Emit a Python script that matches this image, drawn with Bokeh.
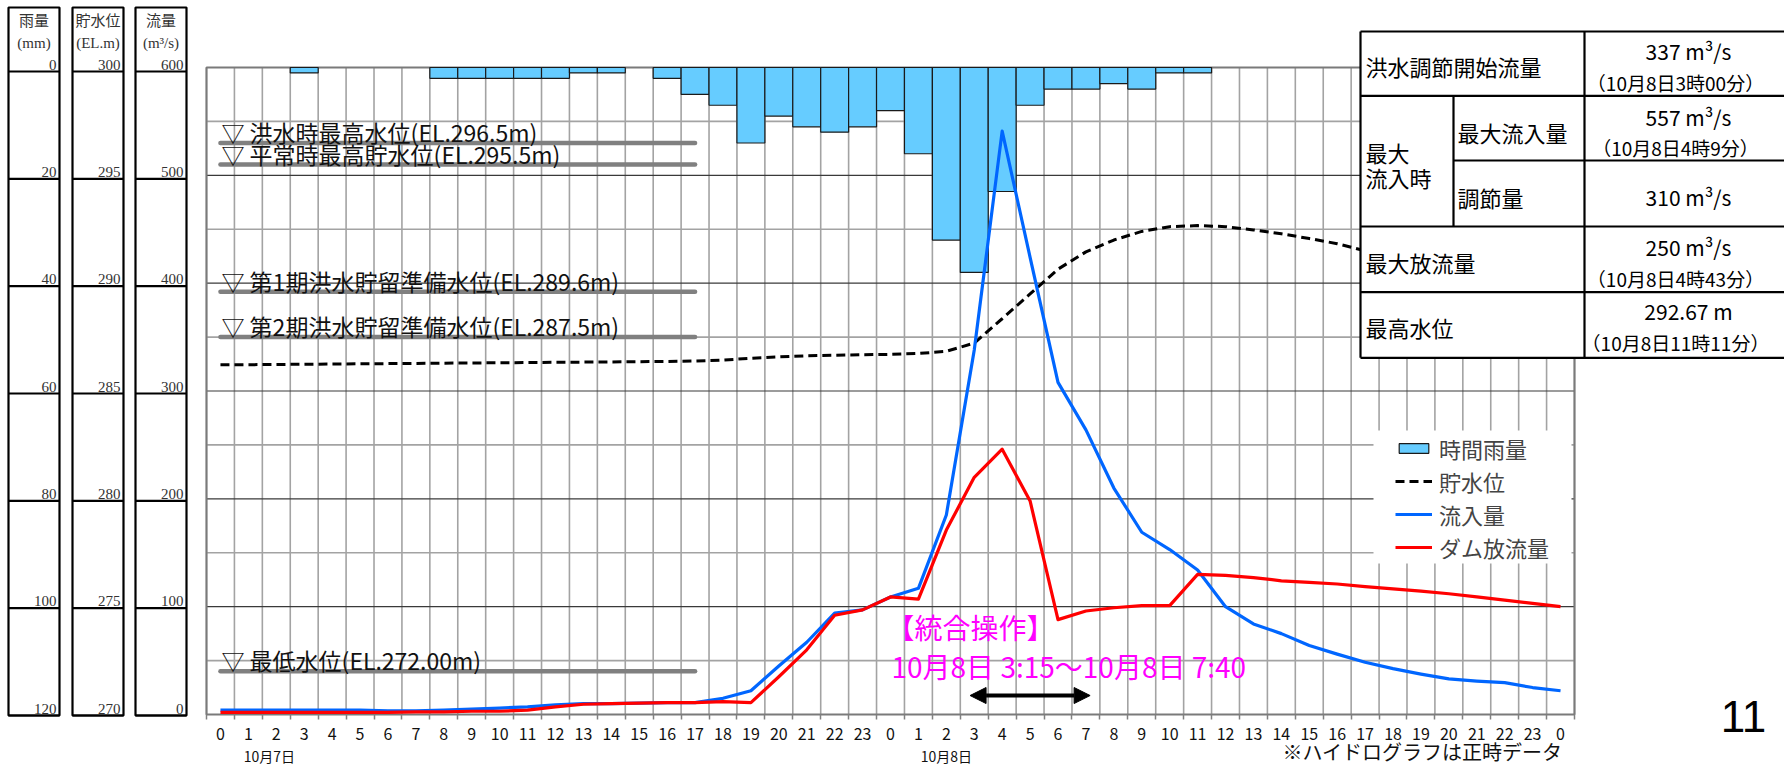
from bokeh.plotting import figure
from bokeh.models import (Range1d, LinearAxis, FixedTicker, ColumnDataSource, Legend,
                          LegendItem, Arrow, NormalHead)
from bokeh.core.properties import value
from bokeh.embed import file_html
from bokeh.resources import INLINE

# ------------------------------------------------------------------ data
hours = list(range(49))                      # 10/7 0:00 ... 10/9 0:00
hour_tick_labels = [str(h % 24) for h in hours]
day_labels = ["10月7日", "10月8日"]
day_label_hours = [1.75, 26.0]

rain_hours = list(range(48))
rain_mm = [0, 0, 0, 1, 0, 0, 0, 0, 2, 2, 2, 2, 2, 1, 1, 0, 2, 5, 7, 14, 9, 11, 12, 11,
           8, 16, 32, 38, 23, 7, 4, 4, 3, 4, 1, 1, 0, 0, 0, 0, 0, 0, 0, 0, 0, 0, 0, 0]

inflow = [4, 4, 4, 4, 4, 4, 3.5, 3.5, 4, 5, 6, 7, 9, 10, 10, 10.5, 11, 11, 15, 22, 45, 67, 94, 97,
          109, 117, 185, 338, 541, 424, 308, 264, 210, 169, 153, 134, 100, 84, 75, 64, 56, 48.5,
          42.5, 37.5, 33, 31, 29.5, 25, 22]

outflow = [2, 2, 2, 2, 2, 2, 2, 2.5, 2.5, 3, 3, 4, 7, 9.5, 10, 10.5, 11, 11, 12, 11, 35, 60, 92, 97,
           109, 107, 171, 220, 246, 198, 88, 96, 99, 101, 101, 130, 129, 127, 124, 122.5, 121,
           118.5, 116.5, 114.5, 112, 109, 106, 103, 100]

level_hours = list(range(42))
level_m = [286.22, 286.22, 286.23, 286.24, 286.25, 286.26, 286.27, 286.28, 286.29, 286.30,
           286.31, 286.32, 286.33, 286.34, 286.35, 286.36, 286.37, 286.39, 286.43, 286.52,
           286.58, 286.63, 286.66, 286.68, 286.70, 286.74, 286.84, 287.22, 288.35, 289.50,
           290.65, 291.45, 292.00, 292.40, 292.62, 292.67, 292.62, 292.47, 292.29, 292.07,
           291.83, 291.50]

rain_ticks = [0, 20, 40, 60, 80, 100, 120]
level_ticks = [300, 295, 290, 285, 280, 275, 270]
flow_ticks = [600, 500, 400, 300, 200, 100, 0]
panel_titles = ["雨量", "貯水位", "流量"]
panel_units = ["(mm)", "(EL.m)", "(m³/s)"]

ref_levels = [296.5, 295.5, 289.6, 287.5, 272.0]
ref_labels = ["▽ 洪水時最高水位(EL.296.5m)", "▽ 平常時最高貯水位(EL.295.5m)",
              "▽ 第1期洪水貯留準備水位(EL.289.6m)", "▽ 第2期洪水貯留準備水位(EL.287.5m)",
              "▽ 最低水位(EL.272.00m)"]

legend_labels = ["時間雨量", "貯水位", "流入量", "ダム放流量"]

op_title = "【統合操作】"
op_period = "10月8日 3:15〜10月8日 7:40"

tbl_labels = ["洪水調節開始流量", "最大", "流入時", "最大流入量", "調節量", "最大放流量", "最高水位"]
tbl_values = ["337 m³/s", "557 m³/s", "310 m³/s", "250 m³/s", "292.67 m"]
tbl_times = ["（10月8日3時00分）", "（10月8日4時9分）", "（10月8日4時43分）", "（10月8日11時11分）"]

footnote = "※ハイドログラフは正時データ"
page_no = "11"

# ------------------------------------------------------------------ layout (page pixels)
W, H = 1784, 766
FR_L, FR_R, FR_T, FR_B = 0, W, 0, H          # frame covers the whole canvas
PL_L, PL_R, PL_T, PL_B = 206, 1574, 67, 714  # hydrograph area
PAN_T, PAN_B = 71, 715                       # left scale panels
H0, H1 = -0.5, 48.5
FMAX = flow_ticks[0]
RMAX = rain_ticks[-1]
LMIN, LMAX = level_ticks[-1], level_ticks[0]

pph = (PL_R - PL_L) / (H1 - H0)
fpp = FMAX / (PL_B - PL_T)
rpp = RMAX / (PL_B - PL_T)
lpp = (LMAX - LMIN) / (PL_B - PL_T)
ppp = FMAX / (PAN_B - PAN_T)

p = figure(width=W, height=H, output_backend="svg", toolbar_location=None,
           x_range=Range1d(FR_L, FR_R), y_range=Range1d(FR_B, FR_T),
           x_axis_type=None, y_axis_type=None,
           min_border_left=0, min_border_right=0, min_border_top=0, min_border_bottom=0,
           outline_line_color=None, background_fill_color="white", border_fill_color="white")

p.extra_x_ranges = {"hour": Range1d(H0 - (PL_L - FR_L) / pph, H1 + (FR_R - PL_R) / pph)}
p.extra_y_ranges = {
    "flow": Range1d(-(FR_B - PL_B) * fpp, (PL_B - FR_T) * fpp),
    "rain": Range1d((FR_B - PL_T) * rpp, (FR_T - PL_T) * rpp),
    "level": Range1d(LMIN - (FR_B - PL_B) * lpp, LMIN + (PL_B - FR_T) * lpp),
    "panel": Range1d(-(FR_B - PAN_B) * ppp, (PAN_B - FR_T) * ppp),
}

JP = value("Noto Sans CJK JP")
SERIF = value("Liberation Serif, Noto Sans CJK JP")

# ---- grid
half_hours = [h - 0.5 for h in range(50)]
p.segment(x0=half_hours, x1=half_hours, y0=0, y1=FMAX, x_range_name="hour", y_range_name="flow",
          line_color="#A3A3A3", line_width=1.6)
minor_flow = [f + 50 for f in flow_ticks[1:]]
major_flow = flow_ticks[1:-1]
p.segment(x0=H0, x1=H1, y0=minor_flow, y1=minor_flow, x_range_name="hour", y_range_name="flow",
          line_color="#A3A3A3", line_width=1.6)
p.segment(x0=H0, x1=H1, y0=major_flow, y1=major_flow, x_range_name="hour", y_range_name="flow",
          line_color="#3A3A3A", line_width=1.2)
p.quad(left=H0, right=H1, bottom=0, top=FMAX, x_range_name="hour", y_range_name="flow",
       fill_color=None, line_color="#7A7A7A", line_width=2)

# ---- rain bars (hanging from the top)
rsrc = ColumnDataSource(dict(h=[h for h, r in zip(rain_hours, rain_mm) if r > 0],
                             r=[r for r in rain_mm if r > 0]))
bars = p.vbar(x="h", top=0, bottom="r", width=1.0, source=rsrc, x_range_name="hour",
              y_range_name="rain", fill_color="#66CCFF", line_color="#1A1A1A", line_width=1.2)

# ---- reference water levels
p.segment(x0=0, x1=17, y0=ref_levels, y1=ref_levels, x_range_name="hour", y_range_name="level",
          line_color="#808080", line_width=4.5, line_cap="round")
p.text(x=0, y=ref_levels, text=ref_labels, x_range_name="hour", y_range_name="level",
       x_offset=1, y_offset=-11, text_font=JP, text_font_size="23px", text_color="#111111",
       text_align="left", text_baseline="middle")

# ---- series
lvl = p.line(level_hours, level_m, x_range_name="hour", y_range_name="level",
             line_color="black", line_width=3, line_dash="9 5")
inf = p.line(hours, inflow, x_range_name="hour", y_range_name="flow",
             line_color="#0066FF", line_width=3.2, line_join="round")
out = p.line(hours, outflow, x_range_name="hour", y_range_name="flow",
             line_color="#FF0000", line_width=3.2, line_join="round")

# ---- operation annotation
p.text(x=24, y=81, text=[op_title], x_range_name="hour", y_range_name="flow", x_offset=-4,
       text_font=JP, text_font_size="28px", text_color="#FF00FF", text_baseline="middle")
p.text(x=24, y=45.4, text=[op_period], x_range_name="hour", y_range_name="flow", x_offset=1,
       text_font=JP, text_font_size="28px", text_color="#FF00FF", text_baseline="middle")
p.add_layout(Arrow(x_start=26.85, x_end=31.15, y_start=17.6, y_end=17.6,
                   x_range_name="hour", y_range_name="flow", line_width=4, line_color="black",
                   start=NormalHead(size=16, fill_color="black", line_color="black"),
                   end=NormalHead(size=16, fill_color="black", line_color="black")))

# ---- left scale panels
pan_x = [(8, 59), (72, 123), (135, 186)]
p.quad(left=[a for a, b in pan_x], right=[b for a, b in pan_x], top=7, bottom=PAN_B,
       fill_color="white", line_color="black", line_width=2.2)
for (a, b), labs, ttl, unit in zip(pan_x, [rain_ticks, level_ticks, flow_ticks],
                                  panel_titles, panel_units):
    p.segment(x0=a, x1=b, y0=flow_ticks, y1=flow_ticks, y_range_name="panel",
              line_color="black", line_width=2.2)
    p.text(x=b - 3, y=flow_ticks, text=[str(v) for v in labs], y_range_name="panel",
           y_offset=-2, text_font=SERIF, text_font_size="15px", text_color="#333333",
           text_align="right", text_baseline="bottom")
    p.text(x=(a + b) / 2, y=[20, 42], text=[ttl, unit], text_font=SERIF,
           text_font_size="15px", text_color="#333333", text_align="center",
           text_baseline="middle")

# ---- legend background
p.quad(left=1373, right=1571, top=430, bottom=563, fill_color="white", line_color=None)

# ---- summary table (top right)
TX0, TX1, TX2, TX3 = 1360, 1453, 1584, 1800
TR = [31, 95.3, 160, 226, 291.7, 357.3]
p.quad(left=TX0, right=TX3, top=TR[0], bottom=TR[-1], fill_color="white", line_color=None)
p.segment(x0=[TX0, TX0, TX0, TX0, TX0, TX1], x1=[TX3] * 6,
          y0=[TR[0], TR[1], TR[3], TR[4], TR[5], TR[2]],
          y1=[TR[0], TR[1], TR[3], TR[4], TR[5], TR[2]], line_color="black", line_width=2.2)
p.segment(x0=[TX0, TX2, TX1], x1=[TX0, TX2, TX1], y0=[TR[0], TR[0], TR[1]],
          y1=[TR[-1], TR[-1], TR[3]], line_color="black", line_width=2.2)
p.text(x=[1365, 1365, 1365, 1457, 1457, 1365, 1365], y=[65, 151.7, 176.7, 131.7, 196, 261.7, 326.7],
       text=tbl_labels, text_font=JP, text_font_size="22px", text_color="black",
       text_align="left", text_baseline="middle")
p.text(x=1688, y=[50.7, 116.7, 196.7, 246.7, 310], text=tbl_values, text_font=JP,
       text_font_size="21px", text_color="black", text_align="center", text_baseline="middle")
p.text(x=1675, y=[81.7, 147.3, 278.3, 341.7], text=tbl_times, text_font=JP,
       text_font_size="19px", text_color="black", text_align="center", text_baseline="middle")

# ---- legend
legend = Legend(items=[LegendItem(label=legend_labels[0], renderers=[bars]),
                       LegendItem(label=legend_labels[1], renderers=[lvl]),
                       LegendItem(label=legend_labels[2], renderers=[inf]),
                       LegendItem(label=legend_labels[3], renderers=[out])],
                location=(1395 - FR_L, FR_B - 563), background_fill_alpha=0,
                border_line_alpha=0, padding=0, spacing=0, margin=0,
                glyph_width=37, glyph_height=12, label_height=33, label_standoff=7,
                label_text_font="Noto Sans CJK JP", label_text_font_size="22px")
p.add_layout(legend)

# ---- x axis (drawn at the bottom of the hydrograph area)
ax = LinearAxis(x_range_name="hour", fixed_location=PL_B,
                ticker=FixedTicker(ticks=hours, minor_ticks=half_hours),
                major_label_overrides={h: t for h, t in zip(hours, hour_tick_labels)},
                axis_line_color=None, major_tick_out=0, major_tick_in=0,
                minor_tick_out=5, minor_tick_in=0, minor_tick_line_color="#808080",
                minor_tick_line_width=1.5, major_label_standoff=8,
                major_label_text_font="Noto Sans CJK JP", major_label_text_font_size="16px",
                major_label_text_color="#111111")
p.add_layout(ax, "below")

# ---- texts under the axis / page number
p.text(x=day_label_hours, y=755, text=day_labels, x_range_name="hour",
       text_font=JP, text_font_size="14px", text_align="center", text_baseline="middle",
       text_color="#111111")
p.text(x=1562, y=751, text=[footnote], text_font=JP, text_font_size="20px",
       text_align="right", text_baseline="middle", text_color="#111111")
p.text(x=1743, y=716, text=[page_no], text_font=value("Liberation Sans"),
       text_font_size="44px", text_align="center", text_baseline="middle", text_color="black")

open("out.html", "w").write(file_html(p, INLINE))
